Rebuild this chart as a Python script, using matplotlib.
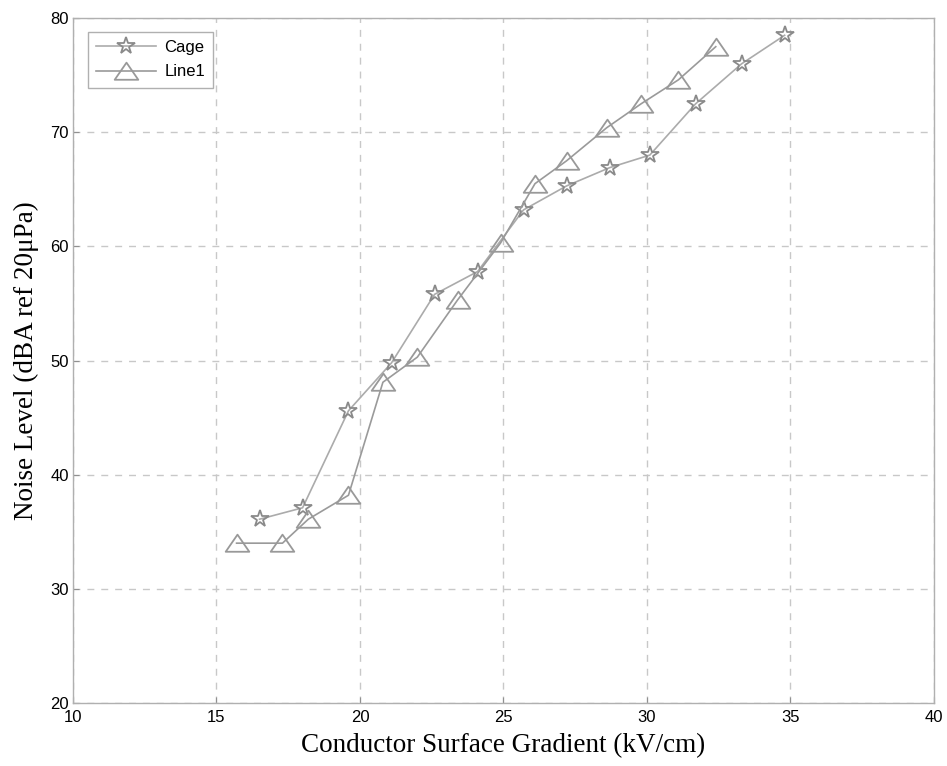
import matplotlib
matplotlib.use("Agg")
import matplotlib.pyplot as plt
import numpy as np
from matplotlib.path import Path

cage_x = [16.5, 18.0, 19.6, 21.1, 22.6, 24.1, 25.7, 27.2, 28.7, 30.1, 31.7, 33.3, 34.8]
cage_y = [36.1, 37.1, 45.6, 49.8, 55.8, 57.8, 63.2, 65.3, 66.9, 68.0, 72.5, 76.0, 78.5]
line1_x = [15.7, 17.3, 18.2, 19.6, 20.8, 22.0, 23.4, 24.9, 26.1, 27.2, 28.6, 29.8, 31.1, 32.4]
line1_y = [34.0, 34.0, 36.1, 38.2, 48.1, 50.3, 55.3, 60.3, 65.5, 67.5, 70.4, 72.5, 74.6, 77.5]
xticks = [10, 15, 20, 25, 30, 35, 40]
yticks = [20, 30, 40, 50, 60, 70, 80]

fig = plt.figure(figsize=(9.47, 7.66), dpi=100)
ax = fig.add_axes([0.0771, 0.0823, 0.909, 0.894])

tri = Path([(-1, -0.7), (1, -0.7), (0, 0.75), (-1, -0.7)],
           [Path.MOVETO, Path.LINETO, Path.LINETO, Path.CLOSEPOLY])

ax.plot(cage_x, cage_y, color='#ababab', lw=1.2, marker='*', markersize=13,
        markerfacecolor='none', markeredgecolor='#8a8a8a', markeredgewidth=1.3,
        label='Cage')
ax.plot(line1_x, line1_y, color='#9a9a9a', lw=1.2, marker=tri, markersize=17,
        markerfacecolor='none', markeredgecolor='#999999', markeredgewidth=1.3,
        label='Line1')

ax.set_xlim(10, 40)
ax.set_ylim(20, 80)
ax.set_xticks(xticks)
ax.set_yticks(yticks)
ax.grid(True, color='#c8c8c8', linestyle=(0, (5, 5)), lw=1.0)
for s in ax.spines.values():
    s.set_color('#b0b0b0')
    s.set_linewidth(1.0)
ax.tick_params(direction='in', length=4, color='#909090', labelsize=12,
               labelfontfamily='Liberation Sans')
ax.tick_params(axis='x', pad=5)
ax.tick_params(axis='y', pad=3)
ax.set_xlabel('Conductor Surface Gradient (kV/cm)', fontfamily='Liberation Serif',
              fontsize=19.5, labelpad=6)
ax.set_ylabel('Noise Level (dBA ref 20μPa)', fontfamily='Liberation Serif',
              fontsize=19.5, labelpad=8)

leg = ax.legend(loc='upper left', prop={'family': 'Liberation Sans', 'size': 12},
                fancybox=False, framealpha=1, edgecolor='#b0b0b0',
                bbox_to_anchor=(0.017, 0.98), borderaxespad=0.0,
                handlelength=3.6, borderpad=0.5, labelspacing=0.55,
                handletextpad=0.5)
leg.get_frame().set_linewidth(1.0)

fig.savefig('out.png', dpi=100)
